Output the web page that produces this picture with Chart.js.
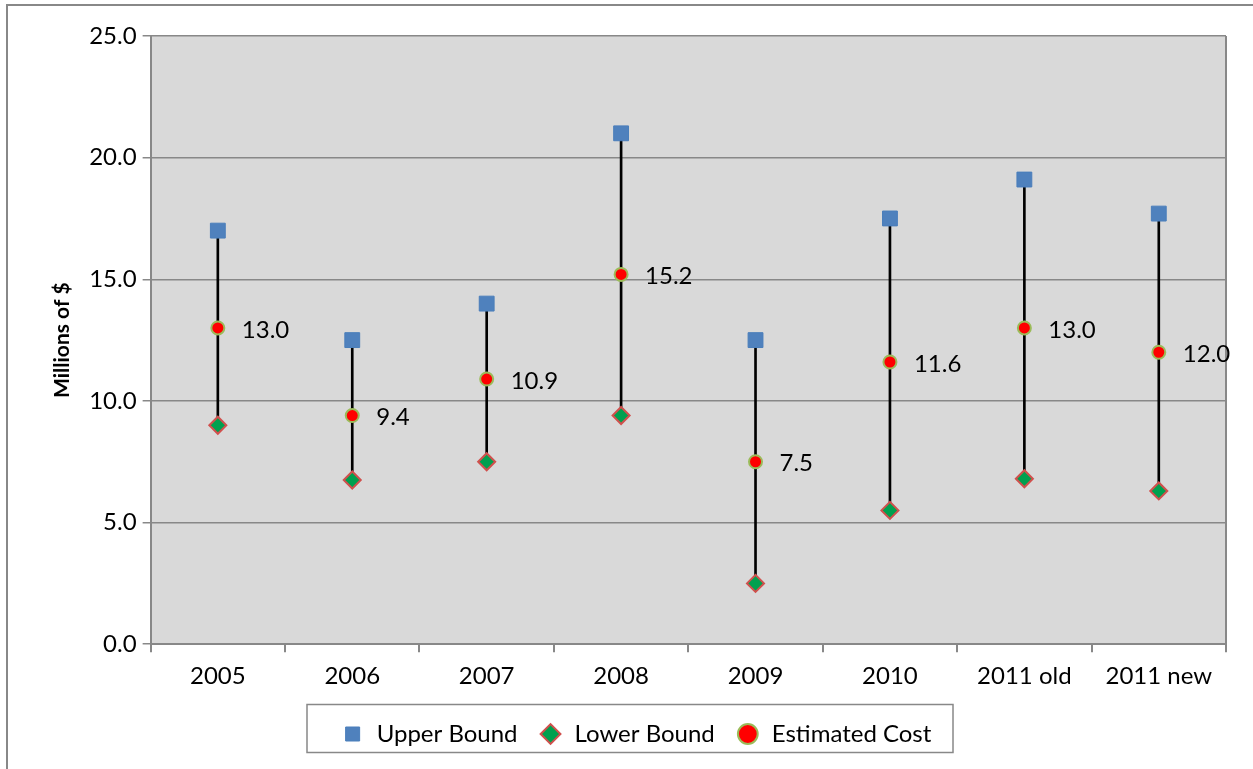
<!DOCTYPE html>
<html>
<head>
<meta charset="utf-8">
<script src="https://cdn.jsdelivr.net/npm/chart.js@4"></script>
<style>
  html, body { margin: 0; padding: 0; background: #fff; }
  #wrap { width: 1253px; height: 769px; position: relative; }
</style>
</head>
<body>
<div id="wrap"><canvas id="costChart" width="1253" height="769"></canvas></div>
<script>
const years = ["2005", "2006", "2007", "2008", "2009", "2010", "2011 old", "2011 new"];
const upperBound = [17.0, 12.5, 14.0, 21.0, 12.5, 17.5, 19.1, 17.7];
const lowerBound = [9.0, 6.75, 7.5, 9.4, 2.5, 5.5, 6.8, 6.3];
const estimatedCost = [13.0, 9.4, 10.9, 15.2, 7.5, 11.6, 13.0, 12.0];

const FONT = "Lato, 'Open Sans', sans-serif";

// plot background, outer frame, value labels, legend box
const decorPlugin = {
  id: "decor",
  beforeDraw(chart) {
    const c = chart.ctx, a = chart.chartArea;
    c.save();
    c.fillStyle = "#d9d9d9";
    c.fillRect(a.left, a.top, a.right - a.left, a.bottom - a.top);
    c.strokeStyle = "#888";
    c.lineWidth = 2;
    c.strokeRect(7, 5, 1270, 790);
    c.restore();
  },
  afterDatasetsDraw(chart) {
    const c = chart.ctx, a = chart.chartArea;
    c.save();
    c.strokeStyle = "#888";
    c.lineWidth = 2;
    c.beginPath();
    c.moveTo(a.right, a.top);
    c.lineTo(a.right, a.bottom);
    c.stroke();
    // labels for the estimate
    const meta = chart.getDatasetMeta(3);
    c.fillStyle = "#000";
    c.font = "24px " + FONT;
    c.textBaseline = "middle";
    meta.data.forEach((pt, i) => {
      c.fillText(estimatedCost[i].toFixed(1), pt.x + 24, pt.y + 2);
    });
    // legend frame
    const lg = chart.legend;
    const mid = (lg.top + lg.bottom) / 2;
    c.strokeStyle = "#888";
    c.lineWidth = 1.5;
    c.strokeRect(307, mid - 24, 646, 48);
    c.restore();
  }
};

new Chart(document.getElementById("costChart").getContext("2d"), {
  data: {
    labels: years,
    datasets: [
      {
        type: "bar",
        label: "range",
        data: upperBound.map((u, i) => [lowerBound[i], u]),
        backgroundColor: "#000",
        barThickness: 2,
        order: 4
      },
      {
        type: "line",
        label: "Upper Bound",
        data: upperBound,
        showLine: false,
        pointStyle: "rect",
        pointRadius: 10.5,
        backgroundColor: "#4f81bd",
        borderColor: "#4a7ebb",
        borderWidth: 1,
        order: 1
      },
      {
        type: "line",
        label: "Lower Bound",
        data: lowerBound,
        showLine: false,
        pointStyle: "rectRot",
        pointRadius: 8.5,
        backgroundColor: "#00a04f",
        borderColor: "#d0504d",
        borderWidth: 2,
        order: 2
      },
      {
        type: "line",
        label: "Estimated Cost",
        data: estimatedCost,
        showLine: false,
        pointStyle: "circle",
        pointRadius: 6.5,
        backgroundColor: "#ff0000",
        borderColor: "#9bbb59",
        borderWidth: 2,
        order: 0
      }
    ]
  },
  options: {
    responsive: false,
    animation: false,
    layout: { padding: { top: 36, right: 27, left: 46, bottom: 13 } },
    plugins: {
      tooltip: { enabled: false },
      legend: {
        position: "bottom",
        labels: {
          filter: (item) => item.text !== "range",
          sort: (a, b) => a.datasetIndex - b.datasetIndex,
          usePointStyle: true,
          boxHeight: 14,
          padding: 21,
          color: "#000",
          font: { family: FONT, size: 24 }
        }
      }
    },
    scales: {
      x: {
        offset: true,
        grid: {
          offset: true,
          drawOnChartArea: false,
          drawTicks: true,
          tickLength: 8,
          color: "#888",
          lineWidth: 2
        },
        border: { color: "#888", width: 2 },
        ticks: { color: "#000", padding: 10, font: { family: FONT, size: 24 } }
      },
      y: {
        min: 0,
        max: 25,
        ticks: {
          stepSize: 5,
          color: "#000",
          padding: 6,
          font: { family: FONT, size: 24 },
          callback: (v) => v.toFixed(1)
        },
        grid: { color: "#888", lineWidth: 1.5, tickLength: 8 },
        border: { color: "#888", width: 2 },
        title: {
          display: true,
          text: "Millions of $",
          color: "#000",
          font: { family: FONT, size: 21, weight: "bold" },
          padding: { bottom: 8 }
        }
      }
    }
  },
  plugins: [decorPlugin]
});
</script>
</body>
</html>
